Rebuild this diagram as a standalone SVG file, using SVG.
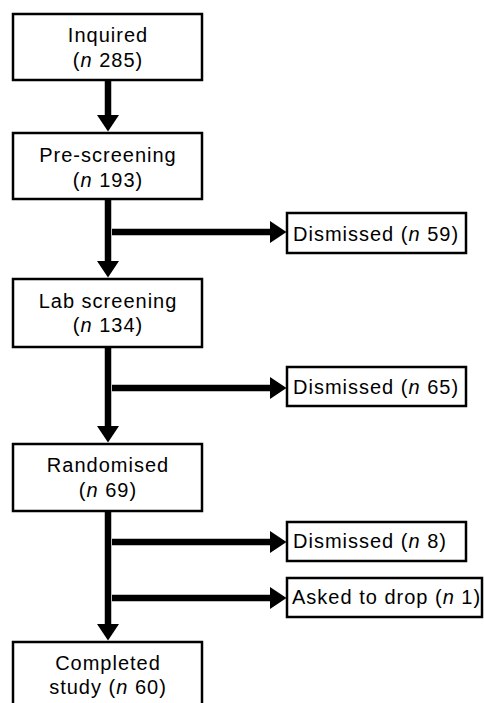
<svg xmlns="http://www.w3.org/2000/svg" width="484" height="703" viewBox="0 0 484 703">
<defs>
<style>
.box{fill:#fff;stroke:#000;stroke-width:2.5}
.t{font-family:"Liberation Sans",Arial,sans-serif;font-size:20px;letter-spacing:1px;fill:#000}
.c{text-anchor:middle}
.s{text-anchor:start}
.ln{stroke:#000;stroke-width:6.5;fill:none}
</style>
<marker id="ah" markerUnits="userSpaceOnUse" markerWidth="17" markerHeight="22" refX="0" refY="11" orient="auto" viewBox="0 0 17 22">
<path d="M0,0 L16.5,11 L0,22 Z" fill="#000"/>
</marker>
</defs>
<rect width="484" height="703" fill="#fff"/>
<g id="connectors">
<line class="ln" x1="108" y1="81" x2="108" y2="115" marker-end="url(#ah)"/>
<line class="ln" x1="108" y1="200" x2="108" y2="261" marker-end="url(#ah)"/>
<line class="ln" x1="112" y1="232" x2="270" y2="232" marker-end="url(#ah)"/>
<line class="ln" x1="108" y1="348" x2="108" y2="426" marker-end="url(#ah)"/>
<line class="ln" x1="112" y1="388" x2="270" y2="388" marker-end="url(#ah)"/>
<line class="ln" x1="108" y1="512" x2="108" y2="624" marker-end="url(#ah)"/>
<line class="ln" x1="112" y1="542" x2="270" y2="542" marker-end="url(#ah)"/>
<line class="ln" x1="112" y1="598" x2="270" y2="598" marker-end="url(#ah)"/>
</g>
<g id="inquired">
<rect class="box" x="13" y="14" width="189" height="66"/>
<text class="t c" x="108" y="42">Inquired</text>
<text class="t c" x="108" y="67">(<tspan font-style="italic">n</tspan> 285)</text>
</g>
<g id="prescreening">
<rect class="box" x="13" y="133" width="189" height="66"/>
<text class="t c" x="108" y="162">Pre-screening</text>
<text class="t c" x="108" y="187">(<tspan font-style="italic">n</tspan> 193)</text>
</g>
<g id="dismissed59">
<rect class="box" x="287" y="213" width="179" height="40"/>
<text class="t s" x="293" y="241">Dismissed (<tspan font-style="italic">n</tspan> 59)</text>
</g>
<g id="labscreening">
<rect class="box" x="13" y="279" width="189" height="68"/>
<text class="t c" x="108" y="308">Lab screening</text>
<text class="t c" x="108" y="332">(<tspan font-style="italic">n</tspan> 134)</text>
</g>
<g id="dismissed65">
<rect class="box" x="287" y="367" width="179" height="39"/>
<text class="t s" x="293" y="394">Dismissed (<tspan font-style="italic">n</tspan> 65)</text>
</g>
<g id="randomised">
<rect class="box" x="13" y="444" width="189" height="67"/>
<text class="t c" x="108" y="472">Randomised</text>
<text class="t c" x="108" y="497">(<tspan font-style="italic">n</tspan> 69)</text>
</g>
<g id="dismissed8">
<rect class="box" x="287" y="522" width="179" height="39"/>
<text class="t s" x="293" y="548">Dismissed (<tspan font-style="italic">n</tspan> 8)</text>
</g>
<g id="askedtodrop">
<rect class="box" x="287" y="578" width="195" height="39"/>
<text class="t s" x="292" y="604">Asked to drop (<tspan font-style="italic">n</tspan> 1)</text>
</g>
<g id="completed">
<rect class="box" x="13" y="642" width="189" height="80"/>
<text class="t c" x="108" y="670">Completed</text>
<text class="t c" x="108" y="694">study (<tspan font-style="italic">n</tspan> 60)</text>
</g>
</svg>
